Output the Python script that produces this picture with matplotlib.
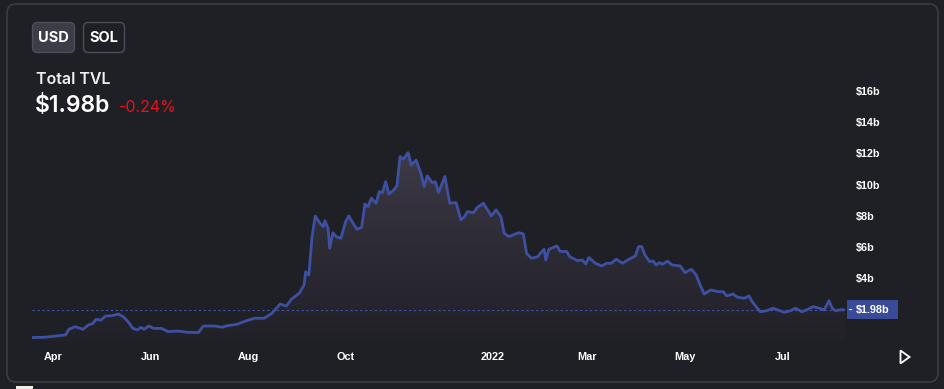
import numpy as np
import pandas as pd
import matplotlib
matplotlib.use("Agg")
import matplotlib.pyplot as plt
import matplotlib.dates as mdates
from matplotlib.patches import FancyBboxPatch, Rectangle, Polygon
from matplotlib.colors import LinearSegmentedColormap
from matplotlib.transforms import blended_transform_factory

# data (TVL in $b)
start = pd.Timestamp("2021-03-19")
days = [0, 8, 21, 23, 27, 32, 35, 38, 40, 43, 46, 50, 54, 57, 60, 63, 66, 68, 70, 73,
        76, 81, 85, 91, 97, 104, 107, 114, 119, 121, 128, 134, 139, 145, 150, 155, 159, 162,
        167, 170, 171, 173, 175, 177, 180, 182, 183, 185, 186, 188, 190, 193, 196, 198, 200,
        203, 206, 208, 210, 212, 215, 217, 219, 221, 223, 226, 228, 230, 232, 235, 237, 240,
        243, 245, 247, 250, 252, 254, 258, 261, 265, 268, 270, 272, 276, 278, 282, 287, 290,
        293, 295, 298, 304, 307, 309, 312, 316, 318, 320, 321, 323, 328, 330, 334, 336, 341,
        344, 346, 348, 352, 356, 359, 362, 365, 369, 373, 377, 379, 381, 383, 386, 388, 390,
        392, 394, 397, 400, 405, 408, 412, 415, 417, 420, 424, 429, 432, 434, 438, 441, 445,
        448, 450, 455, 459, 463, 466, 470, 474, 477, 481, 484, 488, 492, 495, 498, 500, 502,
        505, 508]
tvl = [0.20, 0.22, 0.37, 0.73, 0.90, 0.73, 1.00, 1.10, 1.37, 1.32, 1.58, 1.60, 1.71, 1.54,
       1.22, 0.79, 0.69, 0.86, 0.73, 0.94, 0.79, 0.79, 0.58, 0.62, 0.54, 0.52, 0.94, 0.94,
       0.86, 0.94, 1.05, 1.28, 1.44, 1.44, 1.76, 2.35, 2.22, 2.65, 3.04, 3.57, 4.42, 4.21,
       6.67, 7.99, 7.52, 7.30, 7.69, 7.20, 5.92, 6.92, 6.67, 6.56, 7.63, 8.00, 7.63, 7.14,
       7.27, 8.76, 8.59, 9.13, 8.81, 9.55, 9.49, 10.19, 9.40, 9.66, 9.92, 11.80, 11.63,
       12.05, 11.26, 11.58, 10.73, 9.87, 10.56, 10.13, 10.19, 9.49, 10.52, 8.81, 8.85, 7.74,
       7.91, 8.27, 8.20, 8.52, 8.81, 8.00, 8.38, 7.96, 6.89, 6.67, 6.92, 6.85, 5.60, 5.28,
       5.38, 5.65, 5.86, 5.17, 5.86, 6.07, 5.72, 5.72, 5.38, 5.13, 5.17, 4.92, 5.33, 4.96,
       4.79, 4.96, 4.96, 5.22, 4.96, 5.22, 5.43, 6.03, 6.03, 5.49, 5.06, 5.12, 4.85, 5.00,
       4.90, 5.10, 4.85, 4.79, 4.36, 4.58, 4.21, 3.68, 2.99, 3.25, 3.14, 3.14, 2.87, 2.99,
       2.78, 2.72, 2.87, 2.50, 1.86, 1.92, 2.08, 1.97, 1.82, 1.92, 2.08, 1.86, 1.97, 2.18,
       2.08, 1.97, 2.56, 2.08, 1.92, 1.98, 1.98]
tick_dates = ["2021-04-01", "2021-06-01", "2021-08-01", "2021-10-01",
              "2022-01-01", "2022-03-01", "2022-05-01", "2022-07-01"]
tick_labels = ["Apr", "Jun", "Aug", "Oct", "2022", "Mar", "May", "Jul"]
y_ticks = [4, 6, 8, 10, 12, 14, 16]
current = 1.98
change = -0.24

bg = "#1f2026"
line_c = "#3d50a2"
W, H = 945, 389

dates = start + pd.to_timedelta(days, unit="D")
xd = mdates.date2num(dates)

fig = plt.figure(figsize=(W / 100, H / 100), dpi=100, facecolor=bg)

# pixel-space background layer for the card, buttons and header text
bgax = fig.add_axes([0, 0, 1, 1], zorder=0)
bgax.set_xlim(0, W)
bgax.set_ylim(H, 0)
bgax.axis("off")
bgax.add_patch(FancyBboxPatch((7, 4), 931, 378, boxstyle="round,pad=0,rounding_size=9",
                              fc=bg, ec="#3b3c42", lw=1.2))
bgax.add_patch(Rectangle((16, 386), 17, 4, fc="#f2efe6", ec="none"))
bgax.add_patch(FancyBboxPatch((32.5, 22.5), 42, 30, boxstyle="round,pad=0,rounding_size=5",
                              fc="#3b3e49", ec="#4d505b", lw=1))
bgax.add_patch(FancyBboxPatch((83.5, 22.5), 41, 30, boxstyle="round,pad=0,rounding_size=5",
                              fc=bg, ec="#4d4f58", lw=1))
bgax.text(53.5, 38, "USD", color="white", fontsize=10.5, fontweight="bold",
          family="Inter", ha="center", va="center")
bgax.text(104, 38, "SOL", color="white", fontsize=10.5, fontweight="bold",
          family="Inter", ha="center", va="center")
bgax.text(36, 79, "Total TVL", color="#f0f0f0", fontsize=11.5, fontweight="semibold",
          family="Inter", ha="left", va="center")
bgax.text(35, 106, f"${current:.2f}b", color="white", fontsize=16.5, fontweight="semibold",
          family="Inter", ha="left", va="center")
bgax.text(119, 107, f"{change:.2f}%", color="#e3141c", fontsize=11.5,
          family="Inter", ha="left", va="center")
bgax.add_patch(Polygon([[900.5, 350.5], [900.5, 363.5], [909.5, 357]], closed=True,
                       fc="none", ec="white", lw=1.3))

# main chart
ax = fig.add_axes([32 / W, 1 - 340.7 / H, 813 / W, (340.7 - 91) / H], zorder=1)
ax.set_facecolor("none")
ax.set_xlim(xd[0], xd[-1])
ax.set_ylim(0, 16)
for s in ax.spines.values():
    s.set_visible(False)

# gradient under the line
cmap = LinearSegmentedColormap.from_list("g", ["#222128", "#2d2b34", "#3f3b4b"])
grad = np.linspace(0, 1, 256).reshape(-1, 1)
im = ax.imshow(grad, extent=[xd[0], xd[-1], 0, 12.3], origin="lower", aspect="auto",
               cmap=cmap, zorder=1)
poly = Polygon(np.column_stack([np.r_[xd[0], xd, xd[-1]], np.r_[0, tvl, 0]]),
               closed=True, fc="none", ec="none", transform=ax.transData)
ax.add_patch(poly)
im.set_clip_path(poly)

ax.plot(xd, tvl, color=line_c, lw=2.0, zorder=3, solid_joinstyle="round")
ax.axhline(current, color=line_c, lw=0.8, ls=(0, (2.2, 2.2)), zorder=2)

ax.set_xticks(mdates.date2num(pd.to_datetime(tick_dates)))
ax.set_xticklabels(tick_labels)
ax.yaxis.tick_right()
ax.set_yticks(y_ticks)
ax.set_yticklabels([f"${v}b" for v in y_ticks])
ax.tick_params(length=0, colors="white", labelsize=7.8)
ax.tick_params(axis="x", pad=8)
ax.tick_params(axis="y", pad=8)
for lab in ax.get_xticklabels() + ax.get_yticklabels():
    lab.set_fontweight("bold")
    lab.set_family("Liberation Sans")

# current value marker on the right axis
tr = blended_transform_factory(ax.transAxes, ax.transData)
ax.add_patch(Rectangle((1.0022, current - 0.6), 0.063, 1.2, transform=tr, fc="#3a4a96",
                       ec="none", clip_on=False, zorder=4))
ax.text(1.0045, current, "-", transform=tr, color="white", fontsize=7.8, fontweight="bold",
        ha="left", va="center", zorder=5, family="Liberation Sans")
ax.text(1.0135, current, f"${current:.2f}b", transform=tr, color="white", fontsize=7.8,
        fontweight="bold", ha="left", va="center", zorder=5, family="Liberation Sans")

fig.savefig("out.png", dpi=100, facecolor=bg)
